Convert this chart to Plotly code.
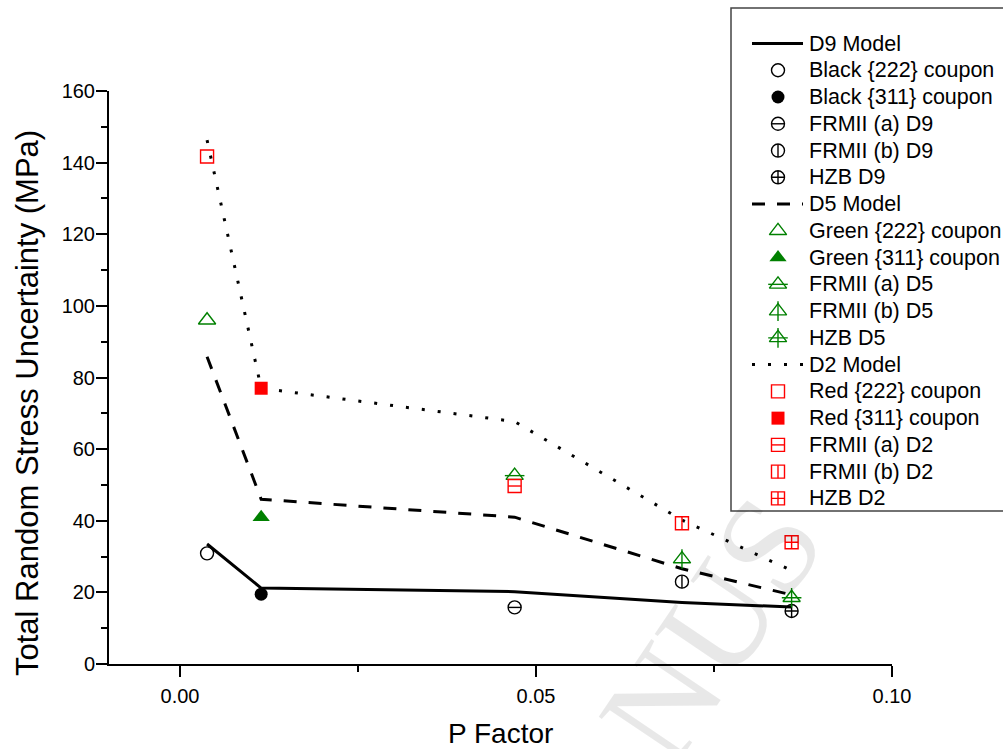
import plotly.graph_objects as go

# ---------------- data ----------------
p_factor = [0.0038, 0.0114, 0.0470, 0.0705, 0.0859]

d9_model = [33.5, 21.2, 20.2, 17.2, 15.9]
d5_model = [85.8, 46.0, 41.0, 26.6, 19.3]
d2_model = [146.3, 77.0, 67.7, 40.2, 26.1]

# observations in order: {222} coupon, {311} coupon, FRMII (a), FRMII (b), HZB
d9_obs = [30.9, 19.5, 15.8, 23.0, 14.8]
d5_obs = [96.0, 41.0, 52.6, 29.3, 18.5]
d2_obs = [141.7, 77.0, 49.7, 39.3, 34.0]

d9_names = ["Black {222} coupon", "Black {311} coupon", "FRMII (a) D9", "FRMII (b) D9", "HZB D9"]
d5_names = ["Green {222} coupon", "Green {311} coupon", "FRMII (a) D5", "FRMII (b) D5", "HZB D5"]
d2_names = ["Red {222} coupon", "Red {311} coupon", "FRMII (a) D2", "FRMII (b) D2", "HZB D2"]
model_names = ["D9 Model", "D5 Model", "D2 Model"]

x_ticks = [0.00, 0.05, 0.10]
y_ticks = [0, 20, 40, 60, 80, 100, 120, 140, 160]

# ---------------- styling ----------------
W, H = 1003, 749
FONT = "Liberation Sans, Arial, sans-serif"
PL, PR, PT, PB = 109, 892, 91, 664  # plot area in pixels

groups = [
    dict(model=d9_model, obs=d9_obs, names=d9_names, mname=model_names[0],
         color="black", base="circle", size=13, dash="solid", xsize=13 / 1.4),
    dict(model=d5_model, obs=d5_obs, names=d5_names, mname=model_names[1],
         color="#008000", base="triangle-up", size=15, dash="13px,12px", xsize=14),
    dict(model=d2_model, obs=d2_obs, names=d2_names, mname=model_names[2],
         color="#ff0000", base="square", size=13, dash="3px,13px", xsize=13 / 1.4),
]


def marker_layers(g, kind):
    """Return list of (symbol, size) layers composing the marker of kind 0..4."""
    b, s, xs = g["base"], g["size"], g["xsize"]
    if kind == 0:
        return [(b + "-open", s)]
    if kind == 1:
        return [(b, s)]
    if kind == 2:
        return [(b + "-open", s), ("line-ew-open", xs)]
    if kind == 3:
        return [(b + "-open", s), ("line-ns-open", xs)]
    if b == "triangle-up":
        return [(b + "-open", s), ("cross-thin-open", xs)]
    return [(b + "-cross-open", s)]


fig = go.Figure()

# model lines + observations on main axes
for g in groups:
    fig.add_trace(go.Scatter(
        x=p_factor, y=g["model"], mode="lines", name=g["mname"],
        line=dict(color="black", width=3, dash=g["dash"]), showlegend=False,
        xaxis="x", yaxis="y"))
for g in groups:
    for k in range(5):
        for sym, sz in marker_layers(g, k):
            filled = not sym.endswith("-open")
            fig.add_trace(go.Scatter(
                x=[p_factor[k]], y=[g["obs"][k]], mode="markers", name=g["names"][k],
                marker=dict(symbol=sym, size=sz, color=g["color"],
                            line=dict(color=g["color"], width=0 if filled else 1.4)),
                showlegend=False, cliponaxis=False, xaxis="x", yaxis="y"))

# ---------------- manual legend (pixel overlay axes) ----------------
LEG_X0, LEG_Y0, LEG_Y1 = 731, 8, 511
ROW0, ROWH = 43.5, 26.76
LINE_X0, LINE_X1, MARK_X, TEXT_X = 752, 803, 778, 807
LEG_FONT = 21.5

annotations = []
# faint page watermark (partially visible in the source image)
annotations.append(dict(text="MANUS", x=648 / W, y=1 - 722 / H, xref="paper", yref="paper",
                        xanchor="center", yanchor="middle", textangle=-56, showarrow=False,
                        font=dict(family="Liberation Serif, Times New Roman, serif", size=140,
                                  color="rgba(0,0,0,0.09)")))

row = 0
for g in groups:
    yy = ROW0 + ROWH * row
    fig.add_trace(go.Scatter(
        x=[LINE_X0, LINE_X1], y=[yy, yy], mode="lines",
        line=dict(color="black", width=3, dash=g["dash"]),
        showlegend=False, xaxis="x2", yaxis="y2", hoverinfo="skip"))
    annotations.append(dict(text=g["mname"], x=TEXT_X / W, y=1 - yy / H, xref="paper", yref="paper",
                            xanchor="left", yanchor="middle", showarrow=False,
                            font=dict(family=FONT, size=LEG_FONT, color="black")))
    row += 1
    for k in range(5):
        yy = ROW0 + ROWH * row
        for sym, sz in marker_layers(g, k):
            filled = not sym.endswith("-open")
            fig.add_trace(go.Scatter(
                x=[MARK_X], y=[yy], mode="markers",
                marker=dict(symbol=sym, size=sz, color=g["color"],
                            line=dict(color=g["color"], width=0 if filled else 1.4)),
                showlegend=False, cliponaxis=False, xaxis="x2", yaxis="y2", hoverinfo="skip"))
        annotations.append(dict(text=g["names"][k], x=TEXT_X / W, y=1 - yy / H, xref="paper", yref="paper",
                                xanchor="left", yanchor="middle", showarrow=False,
                                font=dict(family=FONT, size=LEG_FONT, color="black")))
        row += 1

# axis titles
annotations.append(dict(text="P Factor", x=(PL + PR) / 2 / W, y=1 - 733 / H, xref="paper", yref="paper",
                        xanchor="center", yanchor="middle", showarrow=False,
                        font=dict(family=FONT, size=28, color="black")))
annotations.append(dict(text="Total Random Stress Uncertainty (MPa)", x=27 / W, y=1 - 403 / H,
                        xref="paper", yref="paper", xanchor="center", yanchor="middle",
                        textangle=-90, showarrow=False,
                        font=dict(family=FONT, size=31, color="black")))

shapes = [dict(type="rect", xref="paper", yref="paper", x0=LEG_X0 / W, x1=1.02,
               y0=1 - LEG_Y1 / H, y1=1 - LEG_Y0 / H, line=dict(color="#444444", width=1.5),
               fillcolor="white", layer="below")]

axis_common = dict(showline=True, linecolor="black", linewidth=2, ticks="outside",
                   ticklen=11, tickwidth=2, tickcolor="black", showgrid=False, zeroline=False,
                   mirror=False, automargin=False,
                   tickfont=dict(family=FONT, size=20, color="black"))

fig.update_layout(
    template="none",
    width=W, height=H, autosize=False,
    margin=dict(l=0, r=0, t=0, b=0, pad=0),
    paper_bgcolor="white", plot_bgcolor="rgba(0,0,0,0)",
    showlegend=False,
    xaxis=dict(domain=[PL / W, PR / W], range=[(PL - 180) / 7120, 0.10],
               tickvals=x_ticks, ticktext=[f"{v:.2f}" for v in x_ticks], ticklabelstandoff=2,
               minor=dict(dtick=0.025, tick0=0, ticklen=6, tickwidth=2, tickcolor="black", ticks="outside"),
               anchor="y", **axis_common),
    yaxis=dict(domain=[1 - PB / H, 1 - PT / H], range=[0, 160], tickvals=y_ticks, ticklabelstandoff=-3,
               minor=dict(dtick=10, tick0=0, ticklen=6, tickwidth=2, tickcolor="black", ticks="outside"),
               anchor="x", **axis_common),
    xaxis2=dict(domain=[0, 1], range=[0, W], visible=False, anchor="y2", fixedrange=True, automargin=False),
    yaxis2=dict(domain=[0, 1], range=[H, 0], visible=False, anchor="x2", fixedrange=True, automargin=False),
    annotations=annotations,
    shapes=shapes,
    font=dict(family=FONT, color="black"),
)

fig.write_html("out.html", config={"displayModeBar": False, "staticPlot": True},
               post_script="document.body.style.margin='0px';")
